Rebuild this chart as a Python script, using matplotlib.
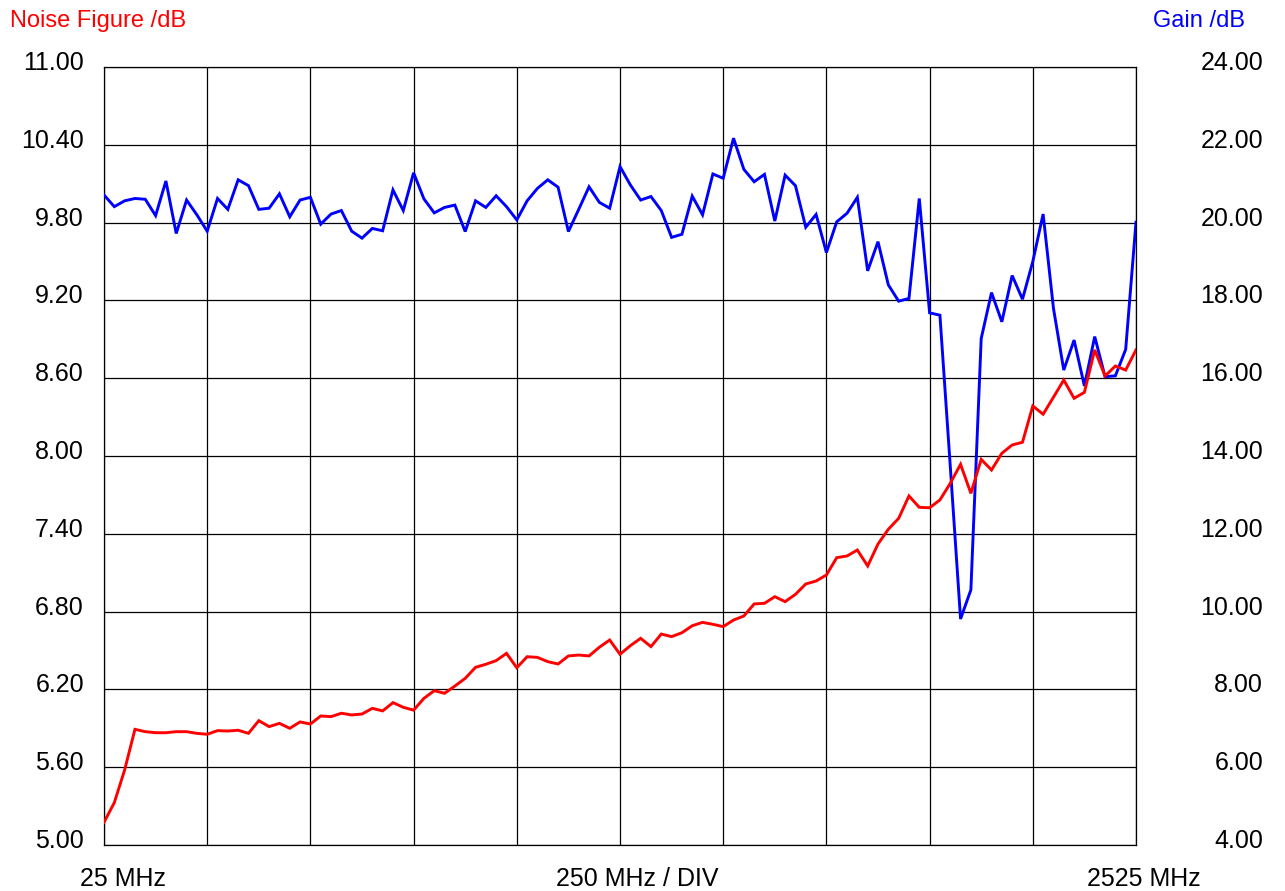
import numpy as np
import matplotlib
matplotlib.use('Agg')
import matplotlib.pyplot as plt
from matplotlib import font_manager
from matplotlib.transforms import offset_copy

# ---------------- data ----------------
freq_start, freq_stop, freq_step = 25, 2525, 25
freqs = np.arange(freq_start, freq_stop + 1, freq_step)

noise_figure = [
    5.175, 5.327, 5.579, 5.892, 5.874, 5.866, 5.866, 5.874, 5.874, 5.861,
    5.854, 5.882, 5.879, 5.885, 5.861, 5.959, 5.913, 5.938, 5.900, 5.949,
    5.933, 5.995, 5.990, 6.016, 6.003, 6.010, 6.054, 6.034, 6.098, 6.062,
    6.040, 6.131, 6.190, 6.170, 6.226, 6.285, 6.370, 6.394, 6.422, 6.478,
    6.367, 6.452, 6.447, 6.414, 6.396, 6.458, 6.465, 6.458, 6.525, 6.581,
    6.471, 6.537, 6.594, 6.530, 6.627, 6.607, 6.637, 6.691, 6.717, 6.702,
    6.684, 6.735, 6.766, 6.859, 6.864, 6.915, 6.877, 6.933, 7.013, 7.036,
    7.082, 7.216, 7.229, 7.275, 7.152, 7.321, 7.435, 7.519, 7.692, 7.604,
    7.601, 7.661, 7.789, 7.936, 7.712, 7.974, 7.892, 8.021, 8.085, 8.106,
    8.386, 8.322, 8.453, 8.586, 8.445, 8.491, 8.818, 8.617, 8.694, 8.663,
    8.818,
]

gain = [
    20.71, 20.41, 20.56, 20.62, 20.60, 20.18, 21.07, 19.72, 20.58, 20.20,
    19.78, 20.62, 20.34, 21.10, 20.95, 20.34, 20.37, 20.74, 20.15, 20.58,
    20.65, 19.96, 20.22, 20.31, 19.78, 19.60, 19.85, 19.79, 20.84, 20.31,
    21.28, 20.61, 20.25, 20.39, 20.45, 19.77, 20.56, 20.39, 20.69, 20.41,
    20.07, 20.56, 20.88, 21.10, 20.91, 19.77, 20.34, 20.92, 20.52, 20.37,
    21.44, 20.97, 20.58, 20.67, 20.31, 19.62, 19.70, 20.68, 20.20, 21.25,
    21.14, 22.17, 21.37, 21.05, 21.24, 20.04, 21.22, 20.95, 19.88, 20.21,
    19.23, 20.02, 20.24, 20.65, 18.76, 19.51, 18.40, 17.98, 18.05, 20.62,
    17.68, 17.62, 13.75, 9.81, 10.56, 17.02, 18.20, 17.45, 18.64, 18.03,
    19.00, 20.22, 17.80, 16.21, 16.98, 15.80, 17.07, 16.04, 16.06, 16.74,
    20.01,
]

nf_ticks = [5.00, 5.60, 6.20, 6.80, 7.40, 8.00, 8.60, 9.20, 9.80, 10.40, 11.00]
gain_ticks = [4.00, 6.00, 8.00, 10.00, 12.00, 14.00, 16.00, 18.00, 20.00, 22.00, 24.00]
x_grid = [25, 275, 525, 775, 1025, 1275, 1525, 1775, 2025, 2275, 2525]
x_texts = ["25 MHz", "250 MHz / DIV", "2525 MHz"]
nf_title = "Noise Figure /dB"
gain_title = "Gain /dB"

# ---------------- fonts ----------------
def have(name):
    try:
        font_manager.findfont(font_manager.FontProperties(family=name),
                              fallback_to_default=False)
        return True
    except Exception:
        return False

narrow = 'Liberation Sans Narrow' if have('Liberation Sans Narrow') else 'Liberation Sans'
narrow_size = 19.5 if narrow == 'Liberation Sans Narrow' else 18
plt.rcParams['font.family'] = ['Liberation Sans', 'DejaVu Sans']

# ---------------- figure ----------------
W, H, DPI = 1285, 891, 100
fig = plt.figure(figsize=(W / DPI, H / DPI), dpi=DPI)
fig.patch.set_facecolor('white')

L, R, T, B = 104, 1136, 67, 845
ax = fig.add_axes([L / W, 1 - B / H, (R - L) / W, (B - T) / H])
ax.set_xlim(freq_start, freq_stop)
ax.set_ylim(nf_ticks[0], nf_ticks[-1])
ax.set_xticks(x_grid)
ax.set_yticks(nf_ticks)
ax.grid(True, color='black', linewidth=0.9)
ax.tick_params(length=0, labelbottom=False, labelleft=False)
for s in ax.spines.values():
    s.set_color('black')
    s.set_linewidth(0.9)

ax2 = ax.twinx()
ax2.set_ylim(gain_ticks[0], gain_ticks[-1])
ax2.set_yticks(gain_ticks)
ax2.tick_params(length=0, labelright=False)
for s in ax2.spines.values():
    s.set_visible(False)
ax2.plot(freqs, gain, color='#0000FF', linewidth=2.1, solid_joinstyle='miter')

ax3 = ax.twinx()
ax3.set_ylim(nf_ticks[0], nf_ticks[-1])
ax3.axis('off')
ax3.plot(freqs, noise_figure, color='#FF0000', linewidth=2.1, solid_joinstyle='miter')

# tick labels (left: noise figure, right: gain)
ytr_left = offset_copy(ax.get_yaxis_transform(), fig=fig, x=-20, y=-3, units='dots')
for v in nf_ticks:
    ax.text(0, v, f"{v:.2f}", transform=ytr_left, ha='right', va='baseline',
            family=narrow, fontsize=narrow_size, color='black', clip_on=False)
ytr_right = offset_copy(ax2.get_yaxis_transform(), fig=fig, x=127, y=-3, units='dots')
for v in gain_ticks:
    ax2.text(1, v, f"{v:.2f}", transform=ytr_right, ha='right', va='baseline',
             family=narrow, fontsize=narrow_size, color='black', clip_on=False)

# bottom frequency texts
x_centers = [123, 637, 1144]
for txt, xc in zip(x_texts, x_centers):
    fig.text(xc / W, 1 - 886 / H, txt, ha='center', va='baseline',
             family=narrow, fontsize=narrow_size, color='black')

# axis titles
fig.text(10 / W, 1 - 27 / H, nf_title, ha='left', va='baseline',
         fontsize=17, color='#FF0000')
fig.text(1153 / W, 1 - 27 / H, gain_title, ha='left', va='baseline',
         fontsize=17, color='#0000FF')

fig.savefig('out.png', dpi=DPI, facecolor='white')
